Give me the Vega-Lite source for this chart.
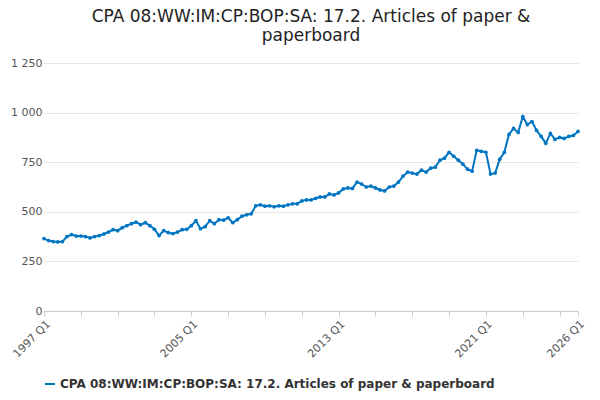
{
"$schema":"https://vega.github.io/schema/vega-lite/v6.json",
"width":600,"height":400,
"autosize":{"type":"fit","contains":"padding"},
"padding":{"top":8,"left":10,"right":14,"bottom":10},
"title":{"text":["CPA 08:WW:IM:CP:BOP:SA: 17.2. Articles of paper &","paperboard"],"font":"DejaVu Sans","fontSize":17,"fontWeight":"normal","color":"#222","offset":12},
"config":{"view":{"stroke":null},"font":"DejaVu Sans"},
"data":{"values":[
{"q":"1997 Q1","v":365},{"q":"1997 Q2","v":355},{"q":"1997 Q3","v":350},{"q":"1997 Q4","v":348},
{"q":"1998 Q1","v":350},{"q":"1998 Q2","v":375},{"q":"1998 Q3","v":385},{"q":"1998 Q4","v":378},
{"q":"1999 Q1","v":378},{"q":"1999 Q2","v":375},{"q":"1999 Q3","v":368},{"q":"1999 Q4","v":375},
{"q":"2000 Q1","v":380},{"q":"2000 Q2","v":388},{"q":"2000 Q3","v":398},{"q":"2000 Q4","v":410},
{"q":"2001 Q1","v":405},{"q":"2001 Q2","v":420},{"q":"2001 Q3","v":430},{"q":"2001 Q4","v":440},
{"q":"2002 Q1","v":448},{"q":"2002 Q2","v":435},{"q":"2002 Q3","v":445},{"q":"2002 Q4","v":430},
{"q":"2003 Q1","v":412},{"q":"2003 Q2","v":380},{"q":"2003 Q3","v":405},{"q":"2003 Q4","v":395},
{"q":"2004 Q1","v":390},{"q":"2004 Q2","v":398},{"q":"2004 Q3","v":410},{"q":"2004 Q4","v":412},
{"q":"2005 Q1","v":430},{"q":"2005 Q2","v":455},{"q":"2005 Q3","v":415},{"q":"2005 Q4","v":425},
{"q":"2006 Q1","v":455},{"q":"2006 Q2","v":440},{"q":"2006 Q3","v":460},{"q":"2006 Q4","v":458},
{"q":"2007 Q1","v":470},{"q":"2007 Q2","v":445},{"q":"2007 Q3","v":460},{"q":"2007 Q4","v":478},
{"q":"2008 Q1","v":485},{"q":"2008 Q2","v":490},{"q":"2008 Q3","v":530},{"q":"2008 Q4","v":535},
{"q":"2009 Q1","v":528},{"q":"2009 Q2","v":530},{"q":"2009 Q3","v":525},{"q":"2009 Q4","v":530},
{"q":"2010 Q1","v":528},{"q":"2010 Q2","v":535},{"q":"2010 Q3","v":540},{"q":"2010 Q4","v":540},
{"q":"2011 Q1","v":555},{"q":"2011 Q2","v":560},{"q":"2011 Q3","v":560},{"q":"2011 Q4","v":568},
{"q":"2012 Q1","v":575},{"q":"2012 Q2","v":575},{"q":"2012 Q3","v":590},{"q":"2012 Q4","v":585},
{"q":"2013 Q1","v":595},{"q":"2013 Q2","v":615},{"q":"2013 Q3","v":620},{"q":"2013 Q4","v":618},
{"q":"2014 Q1","v":650},{"q":"2014 Q2","v":640},{"q":"2014 Q3","v":625},{"q":"2014 Q4","v":630},
{"q":"2015 Q1","v":620},{"q":"2015 Q2","v":610},{"q":"2015 Q3","v":605},{"q":"2015 Q4","v":625},
{"q":"2016 Q1","v":630},{"q":"2016 Q2","v":650},{"q":"2016 Q3","v":680},{"q":"2016 Q4","v":700},
{"q":"2017 Q1","v":695},{"q":"2017 Q2","v":690},{"q":"2017 Q3","v":710},{"q":"2017 Q4","v":700},
{"q":"2018 Q1","v":720},{"q":"2018 Q2","v":725},{"q":"2018 Q3","v":760},{"q":"2018 Q4","v":770},
{"q":"2019 Q1","v":800},{"q":"2019 Q2","v":780},{"q":"2019 Q3","v":760},{"q":"2019 Q4","v":740},
{"q":"2020 Q1","v":715},{"q":"2020 Q2","v":705},{"q":"2020 Q3","v":810},{"q":"2020 Q4","v":805},
{"q":"2021 Q1","v":800},{"q":"2021 Q2","v":690},{"q":"2021 Q3","v":695},{"q":"2021 Q4","v":765},
{"q":"2022 Q1","v":800},{"q":"2022 Q2","v":890},{"q":"2022 Q3","v":920},{"q":"2022 Q4","v":900},
{"q":"2023 Q1","v":980},{"q":"2023 Q2","v":940},{"q":"2023 Q3","v":955},{"q":"2023 Q4","v":910},
{"q":"2024 Q1","v":880},{"q":"2024 Q2","v":845},{"q":"2024 Q3","v":895},{"q":"2024 Q4","v":865},
{"q":"2025 Q1","v":875},{"q":"2025 Q2","v":870},{"q":"2025 Q3","v":880},{"q":"2025 Q4","v":885},
{"q":"2026 Q1","v":905}
]},
"mark":{"type":"line","color":"#0075c2","strokeWidth":2,"point":{"size":14,"filled":true,"color":"#0075c2"}},
"encoding":{
"x":{"field":"q","type":"ordinal","sort":null,"scale":{"type":"point","padding":0},"title":null,
"axis":{"values":["1997 Q1","1999 Q1","2001 Q1","2003 Q1","2005 Q1","2007 Q1","2009 Q1","2011 Q1","2013 Q1","2015 Q1","2017 Q1","2019 Q1","2021 Q1","2023 Q1","2025 Q1","2026 Q1"],"labelExpr":"indexof(['1997 Q1','2005 Q1','2013 Q1','2021 Q1','2026 Q1'],datum.value)>=0?datum.value:''","labelAngle":-45,"labelAlign":"right","labelColor":"#555","labelFontSize":11,"domainColor":"#ccc","tickColor":"#ccc","grid":false}},
"y":{"field":"v","type":"quantitative","scale":{"domain":[0,1250]},"title":null,
"axis":{"values":[0,250,500,750,1000,1250],"labelExpr":"replace(format(datum.value,','),',',' ')","labelColor":"#555","labelFontSize":11,"domain":false,"ticks":false,"gridColor":"#e6e6e6"}},
"color":{"datum":"CPA 08:WW:IM:CP:BOP:SA: 17.2. Articles of paper & paperboard","type":"nominal","scale":{"range":["#0075c2"]},"title":null,
"legend":{"orient":"bottom","labelFontSize":12,"labelFontWeight":"bold","labelColor":"#333","symbolType":"stroke","symbolStrokeWidth":2,"labelLimit":600}}
}
}
